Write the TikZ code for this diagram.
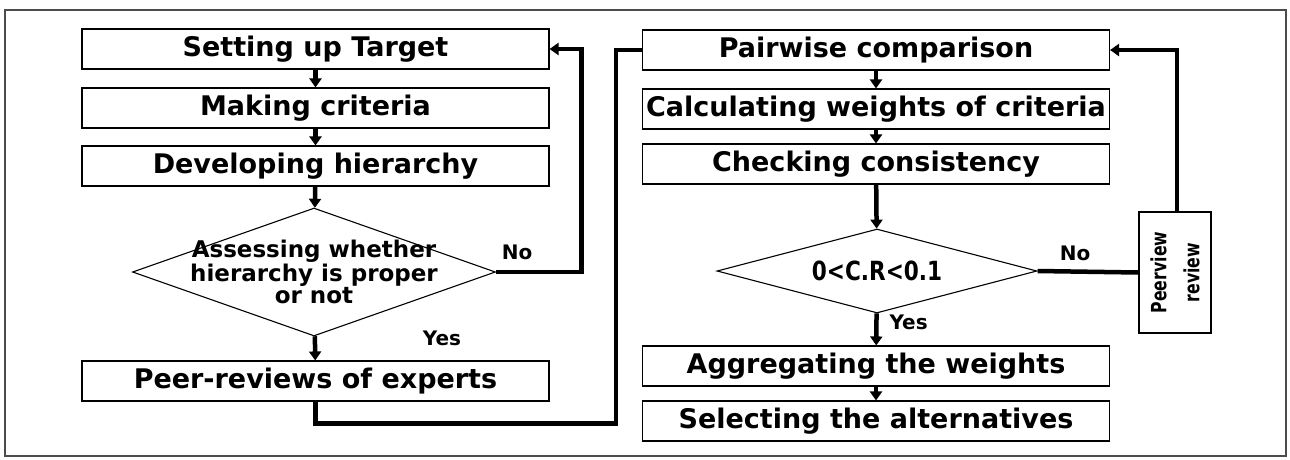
\documentclass[tikz,border=0pt]{standalone}
\usepackage{fontspec}
\setmainfont{DejaVu Sans}
\usetikzlibrary{shapes.geometric, arrows.meta}

\begin{document}
\begin{tikzpicture}[x=1pt, y=-1pt,
  stepbox/.style={draw, line width=1.1pt, minimum width=467pt, minimum height=40pt, inner sep=0pt, font=\fontsize{27}{29}\selectfont\bfseries},
  decision/.style={draw, diamond, line width=1.1pt, inner sep=0pt},
  lbl/.style={font=\fontsize{20}{22}\selectfont\bfseries},
  flow/.style={line width=4.5pt},
  flowarrow/.style={-{Triangle[length=9pt,width=12pt]}}]
\useasboundingbox (0,0) rectangle (1290,459);
\draw[black!70, line width=1.2pt] (5,10) rectangle (1286,456);

% left column
\node[stepbox] (target) at (315.5,49) {Setting up Target};
\node[stepbox] (criteria) at (315.5,108) {Making criteria};
\node[stepbox] (hier) at (315.5,166) {Developing hierarchy};
\node[decision, minimum width=363pt, minimum height=128pt] (proper) at (314,272) {};
\node[align=center, font=\fontsize{23}{21}\selectfont\bfseries] (propertxt) at (proper) {Assessing whether\\hierarchy is proper\\or not};
\node[stepbox] (experts) at (315.5,381) {Peer-reviews of experts};

% right column
\node[stepbox] (pairwise) at (876,50) {Pairwise comparison};
\node[stepbox] (weights) at (876,109) {Calculating weights of criteria};
\node[stepbox] (consist) at (876,164) {Checking consistency};
\node[decision, minimum width=320pt, minimum height=84pt] (cr) at (877,271) {};
\node[font=\fontsize{24}{26}\selectfont\bfseries] (crtxt) at (cr) {\scalebox{0.9}[1.1]{0<C.R<0.1}};
\node[stepbox] (aggr) at (876,366) {Aggregating the weights};
\node[stepbox] (select) at (876,421) {Selecting the alternatives};
\node[draw, line width=1.1pt, minimum width=72pt, minimum height=121pt, inner sep=0pt] (peer) at (1175,272.5) {};
\node[rotate=90, align=center, font=\fontsize{21}{33}\selectfont\bfseries] (peertxt) at (peer) {\scalebox{0.75}[1]{Peerview}\\\scalebox{0.75}[1]{review}};

\node[lbl] (no1) at (517,252) {No};
\node[lbl] (yes1) at (442,338) {Yes};
\node[lbl] (no2) at (1075,253) {No};
\node[lbl, anchor=west] (yes2) at (886,322) {Yes};

% arrows
\draw[flow, flowarrow] (target) -- (criteria);
\draw[flow, flowarrow] (criteria) -- (hier);
\draw[flow, flowarrow] (hier) -- (proper);
\draw[flow, flowarrow] (proper) -- (experts);
\draw[flow, flowarrow] (proper.east) -| ([xshift=32pt]target.east) -- (target.east);
\draw[flow] (experts.south) -- ++(0,22) -| ([xshift=-26pt]pairwise.west) -- (pairwise.west);
\draw[flow, flowarrow] (pairwise) -- (weights);
\draw[flow, flowarrow] (weights) -- (consist);
\draw[flow, flowarrow] (consist) -- (cr);
\draw[flow, flowarrow] (cr) -- (aggr);
\draw[flow, flowarrow] (aggr) -- (select);
\draw[flow] (cr.east) -- (peer.west);
\draw[flow, flowarrow] ([xshift=2pt]peer.north) |- (pairwise.east);
\end{tikzpicture}
\end{document}
